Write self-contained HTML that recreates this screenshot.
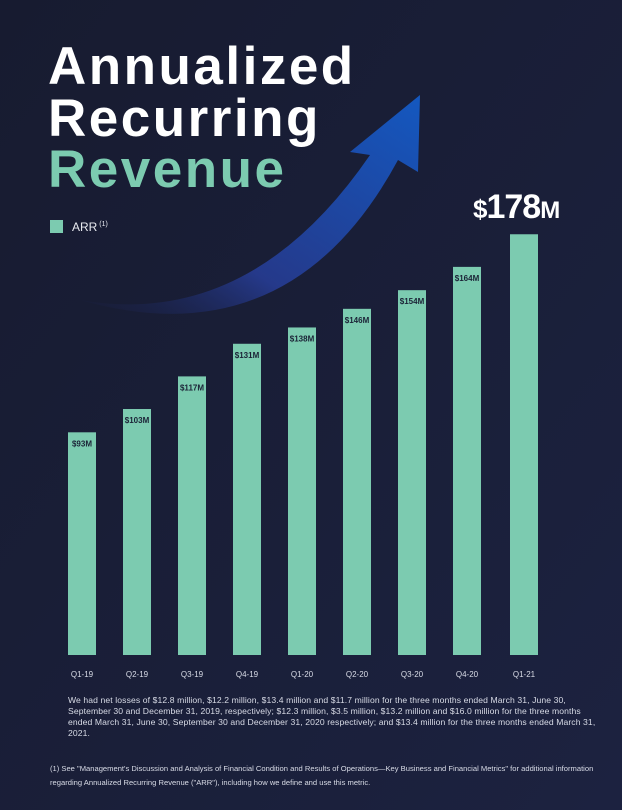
<!DOCTYPE html>
<html><head><meta charset="utf-8"><style>
html,body{margin:0;padding:0}
body{width:622px;height:810px;background:#181c32;position:relative;overflow:hidden;font-family:"Liberation Sans",sans-serif;color:#fff}
.t{position:absolute;left:48px;font-weight:bold;font-size:53px;letter-spacing:2.5px;line-height:1}
.note{position:absolute;font-size:8.6px;color:#d8dbe6;line-height:11px}
</style></head><body>
<svg width="622" height="810" style="position:absolute;left:0;top:0">
<defs>
<linearGradient id="bg" x1="0" y1="0" x2="1" y2="1"><stop offset="0" stop-color="#171b30"/><stop offset="1" stop-color="#1c2240"/></linearGradient>
<linearGradient id="ar" x1="0" y1="1" x2="1" y2="0"><stop offset="0" stop-color="#1a2350" stop-opacity="0"/><stop offset="0.35" stop-color="#25398a"/><stop offset="1" stop-color="#1458c0"/></linearGradient>
</defs>
<rect width="622" height="810" fill="url(#bg)"/>
<path d="M80 300 Q250 330 370 155 L350 152 L420 95 L418 172 L398 160 Q290 360 80 300 Z" fill="url(#ar)"/>
<g id="bars"></g>
</svg>
<div class="t" style="top:40px">Annualized</div>
<div class="t" style="top:92px">Recurring</div>
<div class="t" style="top:143px;color:#7ccbb0">Revenue</div>
<div style="position:absolute;left:50px;top:220px;width:13px;height:13px;background:#7ccbb0"></div>
<div style="position:absolute;left:72px;top:220px;font-size:12px;color:#e8eaf0">ARR<sup style="font-size:7px"> (1)</sup></div>
<div style="position:absolute;left:473px;top:188px;font-weight:bold;font-size:34px;letter-spacing:-1px"><span style="font-size:26px">$</span>178<span style="font-size:24px">M</span></div>
<div class="note" style="left:68px;top:695px;width:530px;letter-spacing:0.1px">We had net losses of $12.8 million, $12.2 million, $13.4 million and $11.7 million for the three months ended March 31, June 30, September 30 and December 31, 2019, respectively; $12.3 million, $3.5 million, $13.2 million and $16.0 million for the three months ended March 31, June 30, September 30 and December 31, 2020 respectively; and $13.4 million for the three months ended March 31, 2021.</div>
<div class="note" style="left:50px;top:762px;width:560px;font-size:7.6px;line-height:14px">(1) See "Management's Discussion and Analysis of Financial Condition and Results of Operations—Key Business and Financial Metrics" for additional information regarding Annualized Recurring Revenue ("ARR"), including how we define and use this metric.</div>
<script>
const categories=["Q1-19","Q2-19","Q3-19","Q4-19","Q1-20","Q2-20","Q3-20","Q4-20","Q1-21"];
const values=[93,103,117,131,138,146,154,164,178];
const labels=["$93M","$103M","$117M","$131M","$138M","$146M","$154M","$164M",""];
const NS="http://www.w3.org/2000/svg";
const xPos=i=>68+i*55+(i===8?2:0);
const yPos=v=>649-2.33*v;
const base=655,bw=28;
const g=document.getElementById('bars');
categories.forEach((c,i)=>{
 const r=document.createElementNS(NS,'rect');
 r.setAttribute('x',xPos(i));r.setAttribute('y',yPos(values[i]));
 r.setAttribute('width',bw);r.setAttribute('height',base-yPos(values[i]));
 r.setAttribute('fill','#7ccbb0');
 
 
 g.appendChild(r);
 if(labels[i]){
  const t=document.createElementNS(NS,'text');
  t.setAttribute('x',xPos(i)+bw/2);t.setAttribute('y',yPos(values[i])+14);
  t.setAttribute('text-anchor','middle');t.setAttribute('font-size','8');t.setAttribute('font-weight','bold');
  t.setAttribute('fill','#1b2236');t.setAttribute('font-family','Liberation Sans, sans-serif');
  t.textContent=labels[i];
  
  
  g.appendChild(t);
 }
 const l=document.createElementNS(NS,'text');
 l.setAttribute('x',xPos(i)+bw/2);l.setAttribute('y',677);
 l.setAttribute('text-anchor','middle');l.setAttribute('font-size','8');
 l.setAttribute('fill','#d8dbe6');l.setAttribute('font-family','Liberation Sans, sans-serif');
 l.textContent=c;
 
 
 g.appendChild(l);
});
</script>
</body></html>
